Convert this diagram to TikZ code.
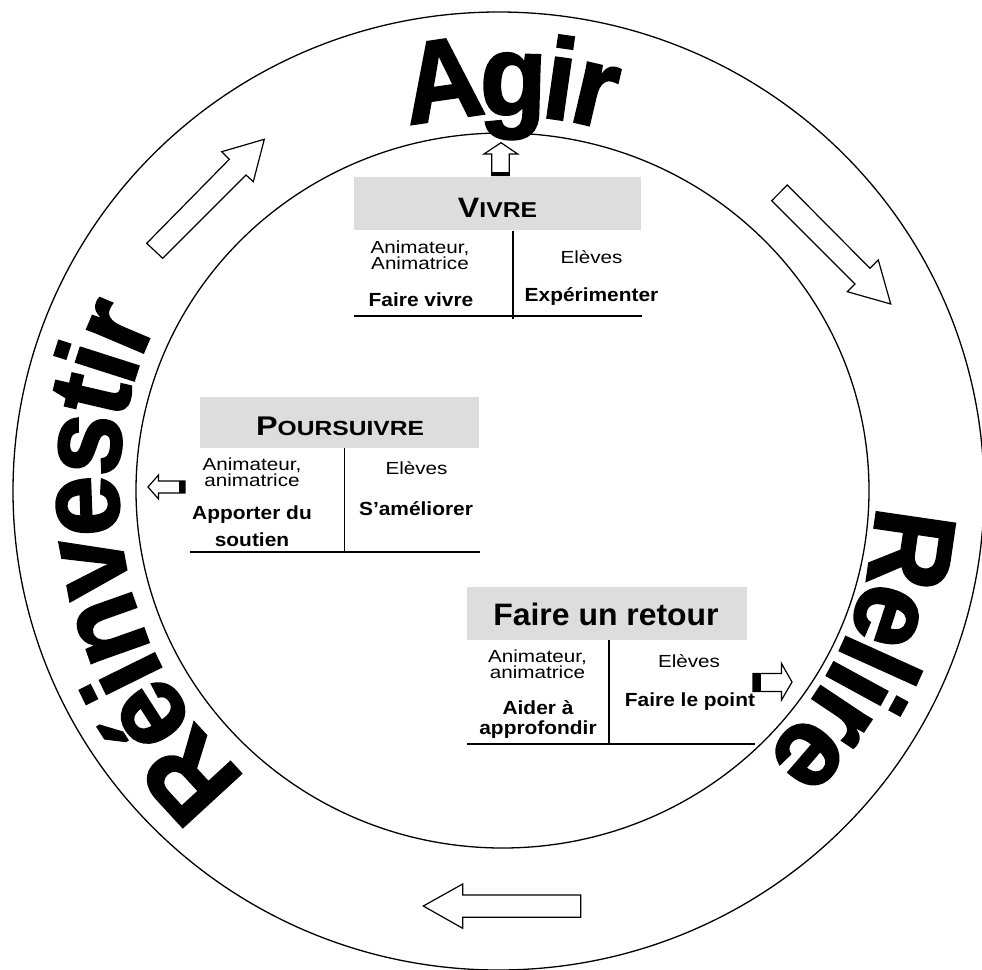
\documentclass[tikz,border=0pt]{standalone}
\usepackage{fontspec}
\setmainfont{Liberation Sans}
\newfontfamily\heavyfont{Liberation Sans}[BoldFeatures={FakeBold=2}]
\usepackage{graphicx}
\definecolor{hdrgray}{HTML}{DDDDDD}
\newcommand\rgx[1]{\scalebox{1.18}[1]{#1}}
\newcommand\bdx[1]{\scalebox{1.1}[1]{#1}}
\newcommand\wordletter[4]{\node[bigtxt, rotate=#2-90] (#1) at ([shift={(502,-490)}]#2:#3) {\scalebox{0.95}[1]{#4}};}
\begin{document}
\begin{tikzpicture}[x=1pt,y=1pt,
  bigtxt/.style={inner sep=0, anchor=base, font=\fontsize{115}{115}\heavyfont\bfseries},
  rtxt/.style={inner sep=0, anchor=base, font=\fontsize{17.5}{17.5}\selectfont},
  btxt/.style={inner sep=0, anchor=base, font=\fontsize{19}{19}\selectfont\bfseries},
  hdtxt/.style={inner sep=0, anchor=base, font=\bfseries},
  hdr/.style={fill=hdrgray, draw=none},
  rule/.style={line width=1.6pt},
  blockarrow/.style={draw, line width=1.2pt, fill=white, line join=miter},
  circ/.style={line width=1.3pt}]
\useasboundingbox (0,0) rectangle (982,-969);
\fill[white] (0,0) rectangle (982,-969);
% circles
\draw[circ] (498.5,-491) ellipse [x radius=485.5, y radius=479];
\draw[circ] (502.5,-490.5) ellipse [x radius=366.5, y radius=357.5];
% arc words
\wordletter{a1}{98.3}{375}{A}
\wordletter{a2}{88.4}{375}{g}
\wordletter{a3}{81.9}{375}{i}
\wordletter{a4}{76.8}{375}{r}
\wordletter{r1}{-8.3}{374}{R}
\wordletter{r2}{-18.1}{374}{e}
\wordletter{r3}{-24.3}{374}{l}
\wordletter{r4}{-28.6}{374}{i}
\wordletter{r5}{-33.7}{374}{r}
\wordletter{r6}{-40.8}{374}{e}
\wordletter{v1}{222.6}{384}{R}
\wordletter{v2}{212.7}{384}{é}
\wordletter{v3}{206.3}{384}{i}
\wordletter{v4}{199.5}{384}{n}
\wordletter{v5}{190.6}{384}{v}
\wordletter{v6}{182.2}{384}{e}
\wordletter{v7}{173.7}{384}{s}
\wordletter{v8}{166.9}{384}{t}
\wordletter{v9}{162.3}{384}{i}
\wordletter{v10}{157.0}{384}{r}
% big block arrows
\draw[blockarrow] (146.7,-243.3) -- (229.3,-159.3) -- (221.7,-151.7) -- (264.3,-139.3) -- (253.3,-181.7) -- (246,-175) -- (162.7,-258.3) -- cycle;
\draw[blockarrow] (787.3,-185) -- (870,-268.3) -- (878.3,-260) -- (890.7,-304) -- (847.3,-291.7) -- (855,-284) -- (771.7,-200.7) -- cycle;
\draw[blockarrow] (423.3,-906) -- (462.7,-884) -- (462.7,-895) -- (580.7,-895) -- (580.7,-917.3) -- (462.7,-917.3) -- (462.7,-928.3) -- cycle;
% small arrows
\draw[blockarrow] (501,-142.7) -- (517.7,-154) -- (509.3,-154) -- (509.3,-175.5) -- (491.7,-175.5) -- (491.7,-154) -- (484,-154) -- cycle;
\fill (491.7,-171.5) rectangle (509.3,-175.5);
\draw[blockarrow] (792,-682) -- (781.5,-663.5) -- (781.5,-673.5) -- (753,-673.5) -- (753,-691.5) -- (781.5,-691.5) -- (781.5,-700) -- cycle;
\fill (753,-673.5) rectangle (761,-691.5);
\draw[blockarrow] (148,-487) -- (158.5,-475) -- (158.5,-481) -- (185,-481) -- (185,-493) -- (158.5,-493) -- (158.5,-499) -- cycle;
\fill (179,-481) rectangle (185,-493);
% Vivre box
\fill[hdr] (354,-177) rectangle (641,-230);
\node[hdtxt] (vivre) at (497.5,-217) {\scalebox{1.15}[1]{\fontsize{28}{28}\selectfont V\fontsize{21.5}{21.5}\selectfont IVRE}};
\draw[rule] (513,-231) -- (513,-319);
\draw[rule] (354,-316) -- (642,-316);
\node[rtxt] (v-an1) at (420,-253) {\rgx{Animateur,}};
\node[rtxt] (v-an2) at (420,-269) {\rgx{Animatrice}};
\node[btxt] (v-act) at (421,-306) {\bdx{Faire vivre}};
\node[rtxt] (v-el) at (591.5,-263) {\rgx{Elèves}};
\node[btxt] (v-elact) at (591.5,-301) {\bdx{Expérimenter}};
% Poursuivre box
\fill[hdr] (200,-397) rectangle (479,-448);
\node[hdtxt] (pours) at (340,-435) {\scalebox{1.2}[1]{\fontsize{27}{27}\selectfont P\fontsize{20.5}{20.5}\selectfont OURSUIVRE}};
\draw[rule] (344.3,-448) -- (344.3,-552);
\draw[rule] (190,-552) -- (480,-552);
\node[rtxt] (p-an1) at (252,-470) {\rgx{Animateur,}};
\node[rtxt] (p-an2) at (252,-486) {\rgx{animatrice}};
\node[btxt] (p-act1) at (252,-519) {\bdx{Apporter du}};
\node[btxt] (p-act2) at (252,-546) {\bdx{soutien}};
\node[rtxt] (p-el) at (416.5,-474) {\rgx{Elèves}};
\node[btxt] (p-elact) at (416,-515) {\bdx{S’améliorer}};
% Faire un retour box
\fill[hdr] (466.7,-586.7) rectangle (746.7,-640);
\node[hdtxt] (retour) at (606,-625) {\scalebox{1.03}[1]{\fontsize{31}{31}\selectfont Faire un retour}};
\draw[rule] (609,-640) -- (609,-744);
\draw[rule] (466.7,-744) -- (755,-744);
\node[rtxt] (f-an1) at (537.5,-662) {\rgx{Animateur,}};
\node[rtxt] (f-an2) at (537.5,-678) {\rgx{animatrice}};
\node[btxt] (f-act1) at (538,-714.5) {\bdx{Aider à}};
\node[btxt] (f-act2) at (538,-734) {\bdx{approfondir}};
\node[rtxt] (f-el) at (689,-667) {\rgx{Elèves}};
\node[btxt] (f-elact) at (690,-706) {\bdx{Faire le point}};
\end{tikzpicture}
\end{document}
